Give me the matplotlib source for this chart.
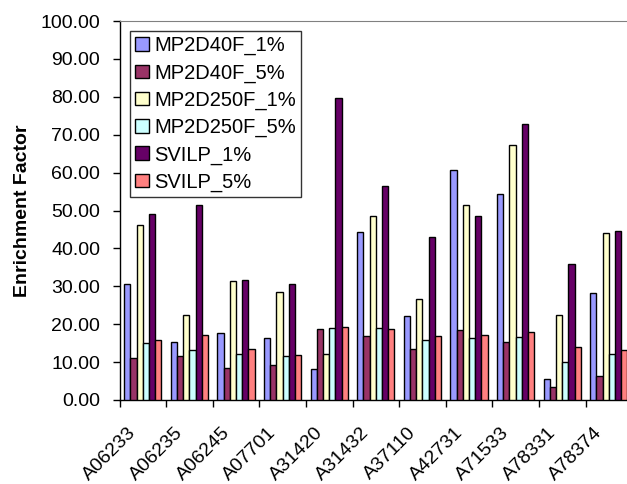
import numpy as np
import matplotlib
matplotlib.use('Agg')
import matplotlib.pyplot as plt
from matplotlib.transforms import ScaledTranslation

plt.rcParams['font.family'] = ['Liberation Sans', 'DejaVu Sans']

# Data
categories = ['A06233', 'A06235', 'A06245', 'A07701', 'A31420', 'A31432',
              'A37110', 'A42731', 'A71533', 'A78331', 'A78374']
series_names = ['MP2D40F_1%', 'MP2D40F_5%', 'MP2D250F_1%',
                'MP2D250F_5%', 'SVILP_1%', 'SVILP_5%']
mp2d40f_1 = [30.7, 15.2, 17.7, 16.3, 8.1, 44.3, 22.2, 60.7, 54.4, 5.6, 28.3]
mp2d40f_5 = [11.0, 11.5, 8.4, 9.2, 18.8, 17.0, 13.5, 18.6, 15.2, 3.3, 6.3]
mp2d250f_1 = [46.3, 22.4, 31.3, 28.5, 12.1, 48.6, 26.6, 51.5, 67.2, 22.5, 44.1]
mp2d250f_5 = [15.0, 13.3, 12.1, 11.6, 19.0, 19.1, 15.7, 16.4, 16.5, 10.0, 12.2]
svilp_1 = [49.2, 51.5, 31.7, 30.7, 79.6, 56.5, 43.1, 48.5, 72.7, 36.0, 44.5]
svilp_5 = [15.7, 17.2, 13.5, 12.0, 19.3, 18.8, 16.9, 17.2, 18.0, 13.9, 13.2]
colors = ['#9999FF', '#993366', '#FFFFCC', '#CCFFFF', '#660066', '#FF8080']

all_series = [mp2d40f_1, mp2d40f_5, mp2d250f_1, mp2d250f_5, svilp_1, svilp_5]

fig = plt.figure(figsize=(6.27, 4.84), dpi=100)
# plot area runs past the right edge of the picture, like the original
ax = fig.add_axes([119.5 / 627, 84 / 484, 512.6 / 627, 379 / 484])

n = len(categories)
w = 1 / 7.5
x = np.arange(n)
for j, (vals, name, c) in enumerate(zip(all_series, series_names, colors)):
    ax.bar(x + 0.75 * w + (j + 0.5) * w, vals, width=w, color=c,
           edgecolor='black', linewidth=1, label=name, zorder=3)

ax.set_xlim(0, n)
ax.set_ylim(0, 100)
ax.set_yticks(np.arange(0, 101, 10))
ax.set_yticklabels(['%.2f' % v for v in np.arange(0, 101, 10)], fontsize=14)

# boundary ticks (no labels) and category labels at centres
ax.set_xticks(np.arange(0, n + 1))
ax.set_xticklabels([])
ax.set_xticks(x + 0.5, minor=True)
ax.set_xticklabels(categories, minor=True, rotation=45, ha='right',
                   rotation_mode='anchor', fontsize=14)
ax.tick_params(axis='x', which='minor', length=0, pad=9)
ax.tick_params(axis='x', which='major', direction='out', length=5, width=1)
ax.tick_params(axis='y', direction='out', length=5, width=1, pad=9)

# nudge the rotated labels down-left, as in the original
shift = ScaledTranslation(-15 / 100, -12 / 100, fig.dpi_scale_trans)
for lbl in ax.get_xticklabels(minor=True):
    lbl.set_transform(lbl.get_transform() + shift)

ax.spines['right'].set_visible(False)
ax.spines['top'].set_color('#808080')
ax.spines['left'].set_linewidth(1)
ax.spines['bottom'].set_linewidth(1)

ax.set_ylabel('Enrichment Factor', fontsize=14, fontweight='bold', labelpad=7)

leg = ax.legend(loc='upper left', bbox_to_anchor=(130 / 627, 1 - 31 / 484),
                bbox_transform=fig.transFigure, borderaxespad=0,
                fontsize=14.5, frameon=True, fancybox=False,
                handlelength=0.7, handleheight=0.65, handletextpad=0.25,
                labelspacing=0.4, borderpad=0.25)
leg.get_frame().set_edgecolor('black')
leg.get_frame().set_linewidth(1)

fig.savefig('out.png', dpi=100)
